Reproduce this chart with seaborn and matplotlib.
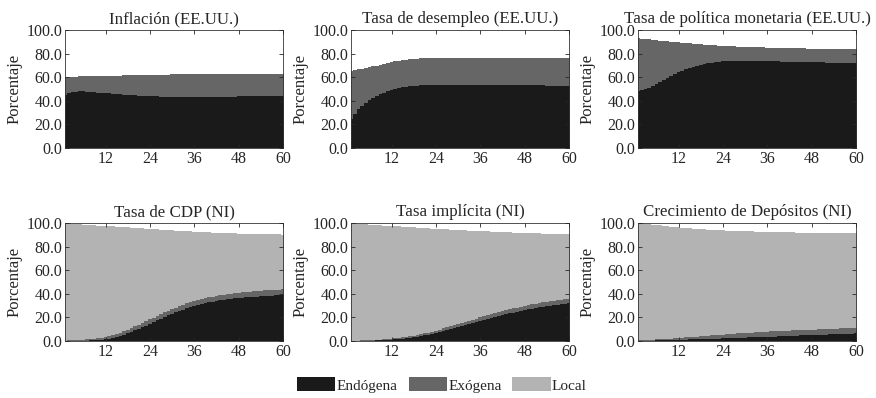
import numpy as np
import pandas as pd
import matplotlib
matplotlib.use("Agg")
import matplotlib.pyplot as plt
from matplotlib.patches import Patch
import seaborn as sns

# ---------------- data ----------------
months = list(range(1, 61))
components = ["Endógena", "Exógena", "Local"]
titles = ["Inflación (EE.UU.)", "Tasa de desempleo (EE.UU.)",
          "Tasa de política monetaria (EE.UU.)", "Tasa de CDP (NI)",
          "Tasa implícita (NI)", "Crecimiento de Depósitos (NI)"]
x_ticks = [12, 24, 36, 48, 60]
y_ticks = [0, 20, 40, 60, 80, 100]

inflacion_endo = [45.0, 46.5, 47.3, 47.8, 48.0, 48.0, 47.8, 47.5, 47.2, 47.0, 46.7, 46.4,
                  46.2, 46.0, 45.8, 45.5, 45.2, 45.0, 44.7, 44.5, 44.3, 44.2, 44.0, 43.9,
                  43.8, 43.7, 43.6, 43.5, 43.5, 43.4, 43.4, 43.4, 43.4, 43.4, 43.4, 43.4,
                  43.4, 43.4, 43.5, 43.5, 43.5, 43.5, 43.5, 43.6, 43.6, 43.6, 43.6, 43.7,
                  43.7, 43.7, 43.7, 43.8, 43.8, 43.8, 43.8, 43.9, 43.9, 43.9, 44.0, 44.0]
inflacion_exo = [14.8, 13.6, 13.0, 12.7, 12.7, 12.8, 13.1, 13.5, 13.8, 14.1, 14.4, 14.8,
                 15.0, 15.3, 15.5, 15.9, 16.3, 16.5, 16.9, 17.2, 17.4, 17.6, 17.9, 18.1,
                 18.2, 18.4, 18.5, 18.7, 18.7, 18.9, 18.9, 19.0, 19.0, 19.1, 19.1, 19.2,
                 19.2, 19.2, 19.2, 19.2, 19.2, 19.2, 19.3, 19.2, 19.2, 19.2, 19.2, 19.2,
                 19.2, 19.2, 19.2, 19.1, 19.1, 19.1, 19.1, 19.1, 19.1, 19.1, 19.0, 19.0]

desempleo_endo = [25.0, 29.0, 33.0, 36.0, 38.5, 40.8, 42.7, 44.3, 45.7, 47.0, 48.2, 49.2,
                  50.0, 50.7, 51.3, 51.8, 52.2, 52.5, 52.8, 53.0, 53.2, 53.3, 53.4, 53.5,
                  53.6, 53.6, 53.7, 53.7, 53.7, 53.7, 53.7, 53.6, 53.6, 53.6, 53.5, 53.5,
                  53.5, 53.4, 53.4, 53.4, 53.3, 53.3, 53.3, 53.2, 53.2, 53.2, 53.1, 53.1,
                  53.1, 53.0, 53.0, 53.0, 53.0, 52.9, 52.9, 52.9, 52.9, 52.8, 52.8, 52.8]
desempleo_exo = [40.3, 37.0, 33.7, 31.3, 29.4, 27.7, 26.4, 25.5, 24.8, 24.3, 23.8, 23.6,
                 23.4, 23.3, 23.2, 23.1, 23.1, 23.1, 23.0, 23.0, 22.9, 22.9, 22.9, 22.8,
                 22.8, 22.8, 22.7, 22.7, 22.7, 22.7, 22.7, 22.8, 22.8, 22.8, 22.9, 22.9,
                 22.9, 23.0, 23.0, 23.0, 23.0, 23.0, 23.0, 23.1, 23.1, 23.1, 23.2, 23.2,
                 23.2, 23.3, 23.2, 23.2, 23.2, 23.3, 23.3, 23.3, 23.3, 23.4, 23.4, 23.3]

politica_endo = [48.0, 48.8, 49.8, 51.0, 52.5, 54.0, 55.8, 57.6, 59.4, 61.2, 62.8, 64.3,
                 65.6, 66.8, 67.9, 68.9, 69.8, 70.6, 71.3, 71.9, 72.4, 72.8, 73.2, 73.5,
                 73.7, 73.9, 74.0, 74.1, 74.1, 74.1, 74.1, 74.0, 74.0, 73.9, 73.8, 73.7,
                 73.6, 73.5, 73.4, 73.3, 73.2, 73.1, 73.0, 72.9, 72.8, 72.8, 72.7, 72.6,
                 72.6, 72.5, 72.5, 72.4, 72.4, 72.3, 72.3, 72.3, 72.2, 72.2, 72.2, 72.1]
politica_exo = [44.8, 43.8, 42.5, 41.0, 39.2, 37.4, 35.3, 33.2, 31.1, 29.0, 27.1, 25.3,
                23.7, 22.2, 20.8, 19.6, 18.4, 17.4, 16.4, 15.6, 14.9, 14.2, 13.6, 13.1,
                12.7, 12.4, 12.1, 11.9, 11.7, 11.6, 11.5, 11.5, 11.4, 11.4, 11.4, 11.4,
                11.4, 11.4, 11.4, 11.5, 11.5, 11.5, 11.6, 11.6, 11.6, 11.6, 11.6, 11.7,
                11.6, 11.7, 11.6, 11.7, 11.6, 11.7, 11.6, 11.6, 11.6, 11.6, 11.5, 11.6]

cdp_endo = [0.1, 0.1, 0.1, 0.2, 0.2, 0.3, 0.4, 0.5, 0.7, 0.9, 1.2, 1.6,
            2.1, 2.7, 3.4, 4.3, 5.3, 6.4, 7.6, 8.9, 10.3, 11.7, 13.1, 14.6,
            16.0, 17.5, 18.9, 20.3, 21.7, 23.0, 24.3, 25.5, 26.6, 27.7, 28.7, 29.6,
            30.5, 31.3, 32.0, 32.7, 33.3, 33.9, 34.4, 34.9, 35.3, 35.7, 36.1, 36.4,
            36.7, 37.0, 37.3, 37.5, 37.7, 37.9, 38.1, 38.3, 38.5, 38.6, 38.8, 38.9]
cdp_exo = [0.3, 0.4, 0.5, 0.6, 0.7, 0.8, 1.0, 1.1, 1.3, 1.5, 1.7, 1.9,
           2.1, 2.3, 2.5, 2.7, 2.9, 3.1, 3.3, 3.4, 3.5, 3.6, 3.7, 3.8,
           3.8, 3.9, 3.9, 4.0, 4.0, 4.0, 4.0, 4.1, 4.1, 4.1, 4.1, 4.1,
           4.2, 4.2, 4.2, 4.2, 4.3, 4.3, 4.3, 4.3, 4.4, 4.4, 4.4, 4.5,
           4.5, 4.5, 4.6, 4.6, 4.6, 4.7, 4.7, 4.7, 4.8, 4.8, 4.8, 4.8]
cdp_local = [99.5, 99.1, 98.7, 98.2, 97.9, 97.5, 97.0, 96.6, 96.0, 95.4, 94.8, 94.0,
             93.1, 92.1, 91.0, 89.7, 88.3, 86.7, 85.1, 83.5, 81.8, 80.1, 78.4, 76.6,
             75.0, 73.2, 71.6, 69.9, 68.3, 66.8, 65.3, 63.8, 62.5, 61.2, 60.0, 58.9,
             57.8, 56.8, 56.0, 55.1, 54.3, 53.6, 53.0, 52.3, 51.7, 51.2, 50.7, 50.2,
             49.8, 49.4, 48.9, 48.7, 48.4, 48.0, 47.7, 47.5, 47.1, 46.9, 46.7, 46.5]

implicita_endo = [0.1, 0.1, 0.1, 0.2, 0.2, 0.3, 0.4, 0.5, 0.6, 0.8, 1.0, 1.2,
                  1.4, 1.7, 2.0, 2.3, 2.7, 3.1, 3.6, 4.1, 4.7, 5.3, 6.0, 6.7,
                  7.5, 8.3, 9.1, 9.9, 10.8, 11.6, 12.5, 13.4, 14.3, 15.1, 16.0, 16.9,
                  17.8, 18.6, 19.5, 20.3, 21.1, 21.9, 22.7, 23.4, 24.1, 24.8, 25.4, 26.1,
                  26.7, 27.3, 27.9, 28.4, 28.9, 29.4, 29.9, 30.3, 30.7, 31.1, 31.5, 31.8]
implicita_exo = [0.2, 0.3, 0.3, 0.4, 0.4, 0.5, 0.5, 0.6, 0.6, 0.7, 0.7, 0.8,
                 0.9, 1.0, 1.1, 1.2, 1.3, 1.4, 1.6, 1.7, 1.8, 1.9, 2.0, 2.1,
                 2.2, 2.3, 2.4, 2.5, 2.6, 2.7, 2.8, 2.8, 2.9, 3.0, 3.0, 3.1,
                 3.1, 3.2, 3.2, 3.3, 3.3, 3.4, 3.4, 3.5, 3.5, 3.5, 3.6, 3.6,
                 3.6, 3.7, 3.7, 3.7, 3.8, 3.8, 3.8, 3.8, 3.9, 3.9, 3.9, 4.0]
implicita_local = [99.6, 99.2, 98.9, 98.5, 98.2, 97.8, 97.5, 97.1, 96.8, 96.3, 96.0, 95.5,
                   95.0, 94.4, 93.7, 93.1, 92.4, 91.7, 90.8, 90.0, 89.1, 88.2, 87.2, 86.2,
                   85.1, 84.1, 83.0, 81.9, 80.8, 79.7, 78.5, 77.5, 76.3, 75.3, 74.2, 73.0,
                   72.0, 71.0, 69.9, 68.9, 68.0, 67.0, 66.1, 65.1, 64.3, 63.5, 62.6, 61.8,
                   61.1, 60.3, 59.6, 59.1, 58.4, 57.8, 57.2, 56.8, 56.2, 55.7, 55.3, 54.8]

depositos_endo = [0.2, 0.3, 0.3, 0.4, 0.4, 0.5, 0.5, 0.6, 0.7, 0.8, 0.9, 1.0,
                  1.1, 1.2, 1.3, 1.4, 1.5, 1.6, 1.7, 1.8, 1.9, 2.0, 2.1, 2.2,
                  2.3, 2.4, 2.5, 2.7, 2.8, 2.9, 3.0, 3.1, 3.2, 3.4, 3.5, 3.6,
                  3.7, 3.8, 3.9, 4.1, 4.2, 4.3, 4.4, 4.5, 4.7, 4.8, 4.9, 5.0,
                  5.1, 5.3, 5.4, 5.5, 5.6, 5.7, 5.8, 6.0, 6.1, 6.2, 6.3, 6.4]
depositos_exo = [0.3, 0.4, 0.5, 0.6, 0.7, 0.8, 0.9, 1.0, 1.1, 1.2, 1.4, 1.5,
                 1.7, 1.8, 2.0, 2.1, 2.3, 2.4, 2.6, 2.7, 2.9, 3.0, 3.2, 3.3,
                 3.4, 3.5, 3.6, 3.7, 3.8, 3.9, 4.0, 4.1, 4.2, 4.3, 4.3, 4.4,
                 4.4, 4.4, 4.5, 4.5, 4.5, 4.5, 4.5, 4.5, 4.5, 4.5, 4.5, 4.5,
                 4.6, 4.6, 4.6, 4.6, 4.6, 4.7, 4.7, 4.7, 4.7, 4.7, 4.8, 4.8]
depositos_local = [99.4, 98.9, 98.5, 98.0, 97.5, 97.0, 96.6, 96.0, 95.5, 95.0, 94.4, 93.9,
                   93.3, 92.8, 92.2, 91.8, 91.2, 90.8, 90.3, 89.9, 89.4, 89.0, 88.6, 88.2,
                   87.9, 87.5, 87.2, 86.8, 86.5, 86.2, 85.9, 85.6, 85.3, 84.9, 84.7, 84.4,
                   84.2, 84.1, 83.8, 83.5, 83.4, 83.2, 83.1, 82.9, 82.7, 82.5, 82.4, 82.2,
                   82.0, 81.8, 81.6, 81.5, 81.4, 81.1, 81.0, 80.8, 80.6, 80.5, 80.3, 80.1]

panels = [
    {"Endógena": inflacion_endo, "Exógena": inflacion_exo},
    {"Endógena": desempleo_endo, "Exógena": desempleo_exo},
    {"Endógena": politica_endo, "Exógena": politica_exo},
    {"Endógena": cdp_endo, "Exógena": cdp_exo, "Local": cdp_local},
    {"Endógena": implicita_endo, "Exógena": implicita_exo, "Local": implicita_local},
    {"Endógena": depositos_endo, "Exógena": depositos_exo, "Local": depositos_local},
]

colors = {"Endógena": "#1a1a1a", "Exógena": "#666666", "Local": "#b3b3b3"}

# ---------------- style ----------------
sns.set_theme(style="ticks")
plt.rcParams["font.family"] = ["Liberation Serif", "DejaVu Serif"]
plt.rcParams["axes.edgecolor"] = "#333333"
plt.rcParams["axes.linewidth"] = 0.6

fig = plt.figure(figsize=(8.76, 3.98), dpi=100)
W, H = 876, 398
lefts = [65, 351, 638]
tops = [30, 223]
aw, ah = 218, 118

for i, (title, series) in enumerate(zip(titles, panels)):
    r, c = divmod(i, 3)
    ax = fig.add_axes([lefts[c] / W, 1 - (tops[r] + ah) / H, aw / W, ah / H])
    rows = []
    for comp, vals in series.items():
        for m, v in zip(months, vals):
            rows.append({"mes": m, "valor": v, "componente": comp})
    df = pd.DataFrame(rows)
    # seaborn stacks the first hue level on top
    order = [k for k in ["Local", "Exógena", "Endógena"] if k in series]
    sns.histplot(data=df, x="mes", weights="valor", hue="componente",
                 hue_order=order, palette=colors, multiple="stack",
                 discrete=True, element="step", fill=True,
                 alpha=1, linewidth=0, legend=False, ax=ax)
    ax.set_xlim(1, 60)
    ax.set_ylim(0, 100)
    ax.set_xticks(x_ticks)
    ax.set_yticks(y_ticks)
    ax.set_yticklabels([f"{t:.1f}" for t in y_ticks])
    ax.set_xlabel("")
    ax.set_ylabel("Porcentaje", fontsize=12, labelpad=3)
    ax.set_title(title, fontsize=12.2, pad=5)
    ax.tick_params(direction="in", top=True, right=True, length=3,
                   width=0.6, labelsize=11.5, pad=2)
    for s in ax.spines.values():
        s.set_visible(True)
    ax.set_axisbelow(False)

handles = [Patch(facecolor=colors[k], edgecolor="none", label=k) for k in components]
fig.legend(handles=handles, loc="center", bbox_to_anchor=(442 / W, 1 - 385 / H),
           ncol=3, frameon=False, fontsize=11, handlelength=2.5, handleheight=1.0,
           handletextpad=0.1, columnspacing=0.7)

fig.savefig("out.png", dpi=100)
